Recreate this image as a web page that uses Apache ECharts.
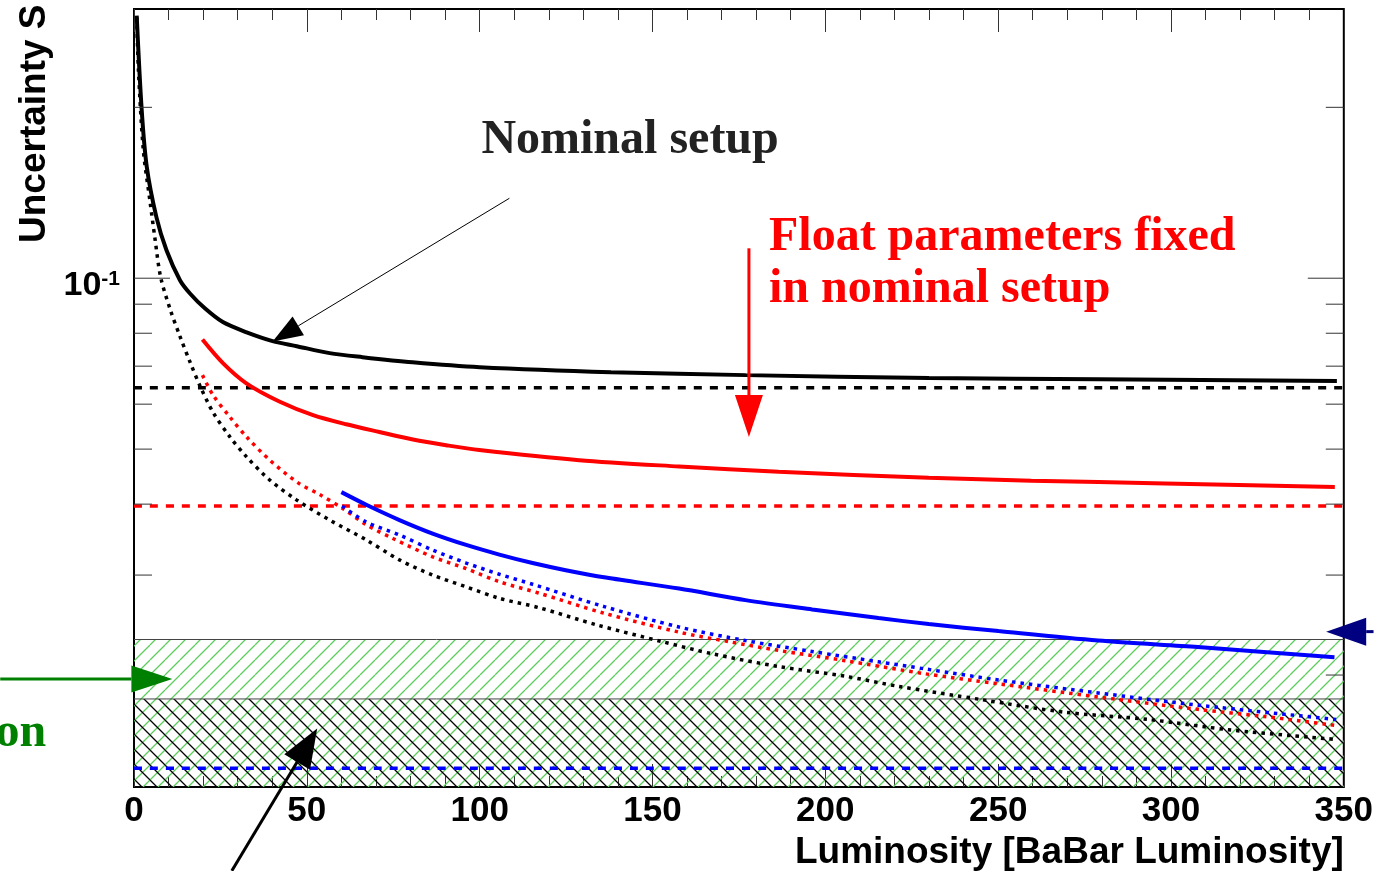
<!DOCTYPE html>
<html>
<head>
<meta charset="utf-8">
<script src="https://cdn.jsdelivr.net/npm/echarts@6/dist/echarts.min.js"></script>
<style>
  html, body { margin: 0; padding: 0; background: #fff; }
  #chart { width: 1376px; height: 871px; }
</style>
</head>
<body>
<div id="chart"></div>
<script>
// [luminosity, uncertainty]
const nominalSolid = [[0.78,0.290],[2.2,0.199],[3.7,0.157],[6.5,0.128],[9.4,0.112],[13.3,0.0992],[16.2,0.0940],[20.5,0.0885],[25.7,0.0837],[32.6,0.0803],[40.1,0.0775],[47.1,0.0759],[56.6,0.0738],[66.1,0.0726],[80.6,0.0711],[100,0.0697],[138,0.0683],[177,0.0675],[230,0.0667],[279,0.0664],[348,0.0659]]
const nominalDotted = [[0.8,0.288],[1.24,0.2355],[2.7,0.168],[4.6,0.137],[6.1,0.117],[7.7,0.1005],[10.5,0.0880],[13.3,0.0790],[16.2,0.0712],[19.1,0.0646],[22.9,0.0580],[27.7,0.0526],[32.5,0.0485],[39.3,0.0441],[47,0.0407],[56.6,0.0375],[67.2,0.0346],[76.8,0.0319],[86.4,0.0300],[96.1,0.0286],[105.7,0.0273],[117,0.0263],[134,0.0245],[152.8,0.0229],[167.3,0.0218],[186.5,0.0207],[205.8,0.0199],[221.2,0.0191],[245.2,0.0181],[269.3,0.0172],[293.4,0.0167],[317.4,0.0160],[348,0.0154]]
const fixedSolid = [[19.8,0.0780],[25.8,0.0708],[32.5,0.0653],[42.2,0.0606],[51.8,0.0574],[61.4,0.0553],[71,0.0536],[80.7,0.0520],[90.3,0.0508],[99.9,0.0498],[128.8,0.0478],[157.7,0.0466],[186.5,0.0456],[229.9,0.0445],[259.6,0.0440],[298.3,0.0435],[347.4,0.0429]]
const fixedDotted = [[19.8,0.0675],[22.9,0.0622],[27.7,0.0570],[32.5,0.0526],[39.3,0.0478],[47.5,0.0436],[53.7,0.0416],[60.4,0.0393],[67.2,0.0368],[74.9,0.0348],[86.4,0.0323],[96.1,0.0308],[105.7,0.0292],[117,0.0279],[136,0.0257],[157.7,0.0238],[172.1,0.0229],[186.5,0.0221],[205.8,0.0212],[228.9,0.0201],[250.1,0.0193],[278.9,0.0183],[307.8,0.0174],[327.1,0.0169],[347.8,0.0163]]
const blueSolid = [[60,0.0420],[67.2,0.0399],[76.8,0.0375],[86.4,0.0355],[96.1,0.0339],[105.7,0.0326],[115.3,0.0315],[124.9,0.0306],[136.5,0.0297],[157.7,0.0284],[176.9,0.0271],[196.2,0.0261],[215.4,0.0252],[229.9,0.0246],[250.1,0.0239],[278.9,0.0230],[307.8,0.0224],[347.3,0.0215]]
const blueDotted = [[60.2,0.0397],[67.2,0.0372],[76.8,0.0353],[86.4,0.0332],[96.1,0.0315],[105.7,0.0301],[115.3,0.0289],[136,0.0264],[157.7,0.0243],[176.9,0.0230],[196.2,0.0220],[215.4,0.0211],[228.9,0.0205],[250.1,0.0196],[278.9,0.0186],[307.8,0.0177],[347.8,0.0167]]

// horizontal reference levels
const lumiRange = [0, 350]
const nominalLevel = 0.0641
const fixedLevel = 0.0397
const blueLevel = 0.0137
const greenBandTop = 0.0231
const blackBandTop = 0.01815

// axis ticks
const yMajorTicks = [0.1]
const yMinorTicks = [0.02, 0.03, 0.04, 0.05, 0.06, 0.07, 0.08, 0.09, 0.2]

// annotations in data units: [tail, tip] and text anchors
const nominalArrow = [[108.6, 0.1383], [40.1, 0.0774]]
const fixedArrow = [[177.9, 0.1129], [177.9, 0.0525]]
const greenArrow = [[-38.7, 0.01968], [11.1, 0.01968]]
const blueArrow = [[358.6, 0.02385], [344.9, 0.02385]]
const bandArrow = [[28.3, 0.00904], [53.0, 0.0161]]
const nominalText = [100.5, 0.175]
const fixedText = [[183.7, 0.1181], [183.7, 0.0953]]
const greenText = [-25.4, 0.0158]

const SANS = '"Liberation Sans", Arial, sans-serif'
const SERIF = '"Liberation Serif", "Times New Roman", serif'

function hatch(color, width, slash) {
  const s = 15
  const c = document.createElement('canvas')
  c.width = s; c.height = s
  const g = c.getContext('2d')
  g.strokeStyle = color
  g.lineWidth = width
  g.beginPath()
  for (let k = -1; k <= 1; k++) {
    if (slash) { g.moveTo(k * s, s); g.lineTo(k * s + s, 0) }
    else { g.moveTo(k * s, 0); g.lineTo(k * s + s, s) }
  }
  g.stroke()
  return { image: c, repeat: 'repeat' }
}

const greenHatch = hatch('#5ccc5c', 1.3, true)
const blackHatch = hatch('#000', 1.3, false)

function bandRender(pattern) {
  return (params, api) => {
    const cs = params.coordSys
    const top = api.coord([0, api.value(1)])[1]
    const bottom = cs.y + cs.height
    return {
      type: 'group',
      children: [
        { type: 'rect', shape: { x: cs.x, y: top, width: cs.width, height: bottom - top }, style: { fill: pattern } },
        { type: 'line', shape: { x1: cs.x, y1: top, x2: cs.x + cs.width, y2: top }, style: { stroke: '#444', lineWidth: 1 } },
      ],
    }
  }
}

function tickRender(len) {
  return (params, api) => {
    const cs = params.coordSys
    const y = api.coord([0, api.value(1)])[1]
    const st = { stroke: '#333', lineWidth: 1 }
    return {
      type: 'group',
      children: [
        { type: 'line', shape: { x1: cs.x, y1: y, x2: cs.x + len, y2: y }, style: st },
        { type: 'line', shape: { x1: cs.x + cs.width - len, y1: y, x2: cs.x + cs.width, y2: y }, style: st },
      ],
    }
  }
}

function arrow(api, pts, lw, headLen, headHalf, color) {
  const p0 = api.coord(pts[0]), p1 = api.coord(pts[1])
  const dx = p1[0] - p0[0], dy = p1[1] - p0[1]
  const len = Math.hypot(dx, dy)
  const ux = dx / len, uy = dy / len
  const bx = p1[0] - ux * headLen, by = p1[1] - uy * headLen
  return [
    { type: 'line', shape: { x1: p0[0], y1: p0[1], x2: bx, y2: by }, style: { stroke: color, lineWidth: lw } },
    { type: 'polygon', shape: { points: [[p1[0], p1[1]], [bx - uy * headHalf, by + ux * headHalf], [bx + uy * headHalf, by - ux * headHalf]] }, style: { fill: color } },
  ]
}

function label(api, at, text, color, align) {
  const p = api.coord(at)
  return {
    type: 'text', x: p[0], y: p[1],
    style: { text, fill: color, font: 'bold 48px ' + SERIF, align, verticalAlign: 'middle', textAlign: align, textVerticalAlign: 'middle' },
  }
}

function annotations(params, api) {
  return {
    type: 'group',
    children: [
      ...arrow(api, nominalArrow, 1, 30, 11, '#000'),
      ...arrow(api, fixedArrow, 3, 42, 14, '#ff0000'),
      ...arrow(api, greenArrow, 3, 41, 13.5, '#008000'),
      ...arrow(api, blueArrow, 3, 40, 14, '#000080'),
      ...arrow(api, bandArrow, 3, 39, 15, '#000'),
      label(api, nominalText, 'Nominal setup', '#222', 'left'),
      label(api, fixedText[0], 'Float parameters fixed', '#ff0000', 'left'),
      label(api, fixedText[1], 'in nominal setup', '#ff0000', 'left'),
      label(api, greenText, 'on', '#008000', 'right'),
    ],
  }
}

const level = (v) => lumiRange.map((x) => [x, v])

function line(name, data, color, type, width, z) {
  return {
    name, type: 'line', data, symbol: 'none', smooth: 0.3, z: z || 3, silent: true,
    lineStyle: { color, type, width, cap: 'butt' },
  }
}

const chart = echarts.init(document.getElementById('chart'))

const xTicks = {
  type: 'value', min: 0, max: 350, interval: 50,
  axisLine: { show: false }, splitLine: { show: false },
  axisTick: { inside: true, length: 23, lineStyle: { color: '#333', width: 1 } },
  minorTick: { show: true, splitNumber: 5, length: 11, lineStyle: { color: '#333', width: 1 } },
}

chart.setOption({
  animation: false,
  backgroundColor: '#fff',
  grid: { left: 134, right: 30, top: 9, bottom: 84, show: true, borderColor: '#000', borderWidth: 2, backgroundColor: 'transparent' },
  xAxis: [
    {
      ...xTicks, position: 'bottom',
      name: 'Luminosity [BaBar Luminosity]', nameLocation: 'end', nameGap: 0,
      nameTextStyle: { fontFamily: SANS, fontWeight: 'bold', fontSize: 37, color: '#000', align: 'right', verticalAlign: 'top', padding: [47, 0, 0, 0] },
      axisLabel: { fontFamily: SANS, fontWeight: 'bold', fontSize: 35, color: '#000', margin: 7 },
    },
    { ...xTicks, position: 'top', axisLabel: { show: false } },
  ],
  yAxis: {
    type: 'log', logBase: 10, min: 0.0127, max: 0.298,
    axisLine: { show: false }, splitLine: { show: false }, axisTick: { show: false },
    axisLabel: {
      margin: 14, padding: [14, 0, 0, 0],
      formatter: (v) => {
        const e = Math.log10(v)
        if (Math.abs(e - Math.round(e)) > 1e-6) return ''
        return '{b|10}{s|' + Math.round(e) + '}'
      },
      rich: {
        b: { fontFamily: SANS, fontWeight: 'bold', fontSize: 34, lineHeight: 34, color: '#000' },
        s: { fontFamily: SANS, fontWeight: 'bold', fontSize: 21, lineHeight: 21, verticalAlign: 'top', color: '#000' },
      },
    },
  },
  graphic: [
    {
      type: 'text', x: 35, y: 243, rotation: Math.PI / 2,
      style: { text: 'Uncertainty S', font: 'bold 37px ' + SANS, fill: '#000', align: 'left', verticalAlign: 'middle' },
    },
  ],
  series: [
    { type: 'custom', name: 'green band', data: [[0, greenBandTop]], renderItem: bandRender(greenHatch), z: 1, silent: true },
    { type: 'custom', name: 'black band', data: [[0, blackBandTop]], renderItem: bandRender(blackHatch), z: 1, silent: true },
    line('nominal level', level(nominalLevel), '#000', [8, 8], 3.5),
    line('fixed level', level(fixedLevel), '#ff0000', [8, 8], 3.5),
    line('blue level', level(blueLevel), '#0000ff', [8, 8], 3.5),
    line('nominal dotted', nominalDotted, '#000', [3.5, 5], 3.5),
    line('fixed dotted', fixedDotted, '#ff0000', [3.5, 5], 3.5),
    line('blue dotted', blueDotted, '#0000ff', [3.5, 5], 3.5),
    line('nominal', nominalSolid, '#000', 'solid', 4, 4),
    line('fixed', fixedSolid, '#ff0000', 'solid', 4, 4),
    line('blue', blueSolid, '#0000ff', 'solid', 4, 4),
    { type: 'custom', name: 'y major ticks', data: yMajorTicks.map((v) => [0, v]), renderItem: tickRender(36), z: 5, silent: true },
    { type: 'custom', name: 'y minor ticks', data: yMinorTicks.map((v) => [0, v]), renderItem: tickRender(18), z: 5, silent: true },
    { type: 'custom', name: 'annotations', data: [[0, 0.1]], renderItem: annotations, z: 6, silent: true },
  ],
})
</script>
</body>
</html>
